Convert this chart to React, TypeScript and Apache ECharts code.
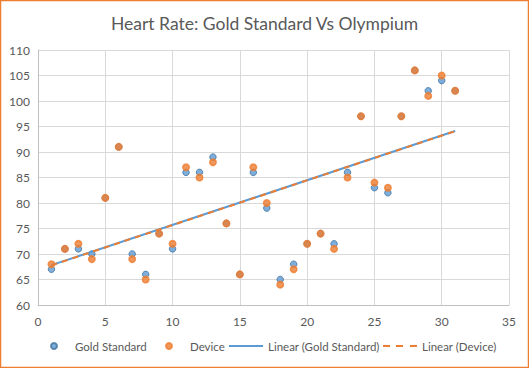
import React, { useEffect, useRef } from "react";
import * as echarts from "echarts";

const xValues = [1, 2, 3, 4, 5, 6, 7, 8, 9, 10, 11, 12, 13, 14, 15, 16, 17, 18, 19, 20, 21, 22, 23, 24, 25, 26, 27, 28, 29, 30, 31];
const goldStandard = [67, 71, 71, 70, 81, 91, 70, 66, 74, 71, 86, 86, 89, 76, 66, 86, 79, 65, 68, 72, 74, 72, 86, 97, 83, 82, 97, 106, 102, 104, 102];
const device = [68, 71, 72, 69, 81, 91, 69, 65, 74, 72, 87, 85, 88, 76, 66, 87, 80, 64, 67, 72, 74, 71, 85, 97, 84, 83, 97, 106, 101, 105, 102];
const seriesNames = ["Gold Standard", "Device", "Linear (Gold Standard)", "Linear (Device)"];
const titleText = "Heart Rate: Gold Standard Vs Olympium";

function linearFit(xs: number[], ys: number[]) {
  const n = xs.length;
  const mx = xs.reduce((a, b) => a + b, 0) / n;
  const my = ys.reduce((a, b) => a + b, 0) / n;
  let num = 0;
  let den = 0;
  for (let i = 0; i < n; i++) {
    num += (xs[i] - mx) * (ys[i] - my);
    den += (xs[i] - mx) * (xs[i] - mx);
  }
  const slope = num / den;
  const icpt = my - slope * mx;
  const x0 = xs[0];
  const x1 = xs[n - 1];
  return [
    [x0, icpt + slope * x0],
    [x1, icpt + slope * x1],
  ];
}

const FONT = "Lato, 'Open Sans', sans-serif";
const TEXT = "#595959";
const BLUE = "#5b9bd5";
const ORANGE = "#ed7d31";

export default function App() {
  const ref = useRef<HTMLDivElement>(null);
  useEffect(() => {
    if (!ref.current) return;
    const chart = echarts.init(ref.current, null, { renderer: "svg" });
    const pts = (ys: number[]) => xValues.map((x, i) => [x, ys[i]]);
    const legendText = { color: TEXT, fontSize: 11.5, fontFamily: FONT };
    const scatterLegendText = { ...legendText, padding: [0, 0, 0, 12] };
    const LEG_TOP = 340;
    chart.setOption({
      animation: false,
      backgroundColor: "#ffffff",
      title: {
        text: titleText,
        left: "center",
        top: 9,
        textStyle: { color: TEXT, fontSize: 17.5, fontWeight: "normal", fontFamily: FONT },
      },
      grid: { left: 38, right: 20, top: 50, bottom: 63, containLabel: false },
      xAxis: {
        type: "value",
        min: 0,
        max: 35,
        interval: 5,
        axisLine: { show: true, lineStyle: { color: "#bfbfbf", width: 1 } },
        axisTick: { show: false },
        splitLine: { show: true, lineStyle: { color: "#d9d9d9", width: 1 } },
        axisLabel: { color: TEXT, fontSize: 12, fontFamily: FONT, margin: 10 },
      },
      yAxis: {
        type: "value",
        min: 60,
        max: 110,
        interval: 5,
        axisLine: { show: true, lineStyle: { color: "#bfbfbf", width: 1 } },
        axisTick: { show: false },
        splitLine: { show: true, lineStyle: { color: "#d9d9d9", width: 1 } },
        axisLabel: { color: TEXT, fontSize: 12, fontFamily: FONT, margin: 8 },
      },
      legend: [
        {
          data: [seriesNames[0]],
          left: 50,
          top: LEG_TOP,
          padding: 0,
          itemWidth: 6,
          itemHeight: 6,
          icon: "circle",
          textStyle: { ...legendText, padding: [0, 0, 0, 13] },
        },
        {
          data: [seriesNames[1]],
          left: 165,
          top: LEG_TOP,
          padding: 0,
          itemWidth: 6,
          itemHeight: 6,
          icon: "circle",
          textStyle: { ...legendText, padding: [0, 0, 0, 13] },
        },
        {
          data: [seriesNames[2]],
          left: 229,
          top: LEG_TOP,
          padding: 0,
          itemWidth: 34,
          itemHeight: 2,
          icon: "rect",
          textStyle: legendText,
        },
        {
          data: [seriesNames[3]],
          left: 383,
          top: LEG_TOP,
          padding: 0,
          itemWidth: 34,
          itemHeight: 2,
          icon: "path://M0,0h7v2h-7z M13,0h7v2h-7z M27,0h7v2h-7z",
          textStyle: legendText,
        },
      ],
      graphic: [
        {
          type: "rect",
          shape: { x: 0.5, y: 0.5, width: 528, height: 367 },
          style: { fill: "none", stroke: ORANGE, lineWidth: 1.5 },
          silent: true,
          z: 100,
        },
      ],
      series: [
        {
          name: seriesNames[0],
          type: "scatter",
          data: pts(goldStandard),
          symbol: "circle",
          symbolSize: 6.5,
          itemStyle: { color: BLUE, borderColor: "#41719c", borderWidth: 1 },
          z: 2,
        },
        {
          name: seriesNames[1],
          type: "scatter",
          data: pts(device),
          symbol: "circle",
          symbolSize: 6.5,
          itemStyle: { color: ORANGE, borderColor: ORANGE, borderWidth: 1.5 },
          z: 3,
        },
        {
          name: seriesNames[2],
          type: "line",
          data: linearFit(xValues, goldStandard),
          symbol: "none",
          showSymbol: false,
          lineStyle: { color: BLUE, width: 2, type: "solid" },
          itemStyle: { color: BLUE },
          z: 4,
        },
        {
          name: seriesNames[3],
          type: "line",
          data: linearFit(xValues, device),
          symbol: "none",
          showSymbol: false,
          lineStyle: { color: ORANGE, width: 2, type: [6, 5] },
          itemStyle: { color: ORANGE },
          z: 5,
        },
      ],
    });
    return () => chart.dispose();
  }, []);
  return (
    <div
      ref={ref}
      style={{ position: "fixed", left: 0, top: 0, width: 529, height: 368 }}
    />
  );
}
